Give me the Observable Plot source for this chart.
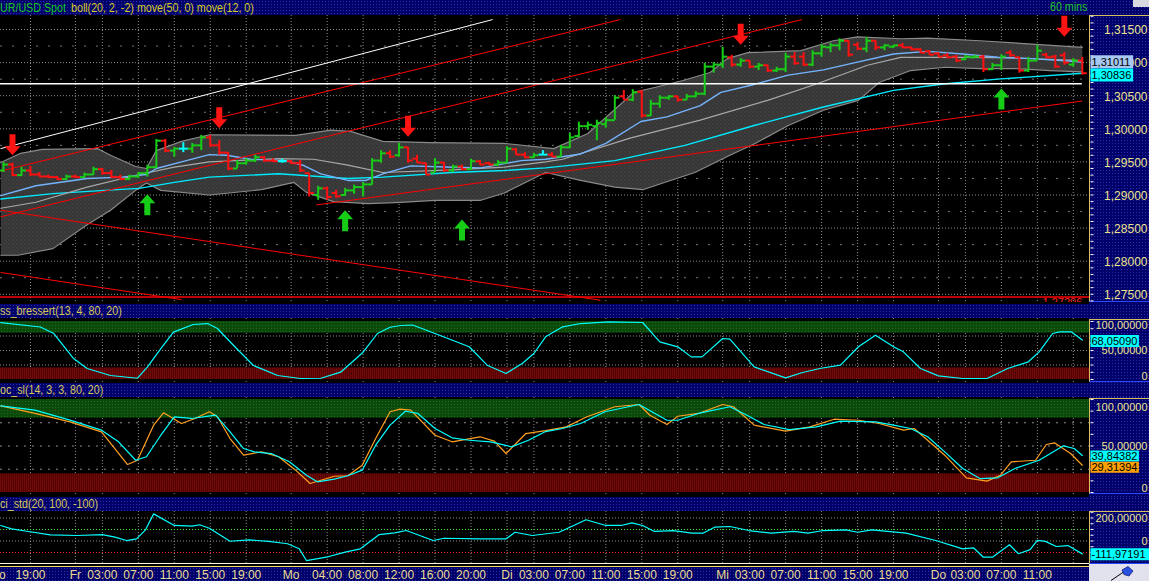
<!DOCTYPE html>
<html>
<head>
<meta charset="utf-8">
<script src="https://cdn.jsdelivr.net/npm/d3@7"></script>
<script src="https://cdn.jsdelivr.net/npm/@observablehq/plot@0.6"></script>
<style>
html,body{margin:0;padding:0;background:#000;}
#root{position:relative;width:1149px;height:581px;background:#000;overflow:hidden;font-family:'Liberation Sans',Arial,sans-serif;}
.navy{position:absolute;background-color:#00006a;background-image:radial-gradient(rgba(80,80,220,0.55) 0.7px, transparent 1px);background-size:3px 3px;}
.hdr{left:0;width:1149px;}
.hdr span{position:absolute;font-size:12px;white-space:nowrap;transform:scaleX(0.89);transform-origin:0 50%;}
.axbox{left:1089px;width:60px;box-sizing:border-box;border-left:1px solid #d8c060;border-top:1px solid #d8c060;border-bottom:1px solid #2848ff;}
.wrap{position:absolute;left:0;}
.wrap svg{display:block;}
</style>
</head>
<body>
<svg width="0" height="0" style="position:absolute;left:0;top:0">
  <defs>
    <pattern id="bandTex" width="4" height="4" patternUnits="userSpaceOnUse">
      <rect width="4" height="4" fill="#383838"/>
      <rect x="0" y="0" width="1" height="1" fill="#525252"/>
      <rect x="2" y="2" width="1" height="1" fill="#474747"/>
      <rect x="3" y="1" width="1" height="1" fill="#282828"/>
      <rect x="1" y="3" width="1" height="1" fill="#2e2e2e"/>
    </pattern>
    <pattern id="greenTex" width="3" height="3" patternUnits="userSpaceOnUse">
      <rect width="3" height="3" fill="#0b4a0b"/>
      <rect x="1" y="1" width="1" height="1" fill="#1e6a1e"/>
    </pattern>
    <pattern id="redTex" width="2" height="2" patternUnits="userSpaceOnUse">
      <rect width="2" height="2" fill="#560000"/>
      <rect x="0" y="0" width="1" height="2" fill="#6e0a0a"/>
    </pattern>
  </defs>
</svg>
<div id="root"></div>
<script>
// ================= DATA =================
// time axis (bar index -> label)
const timeTickIdx = [3,11,15,19,23,27,36,40,44,48,52,59,63,67,71,75,83,87,91,95,99,107,111,115];
const timeTickLabels = ["19:00","03:00","07:00","11:00","15:00","19:00","04:00","08:00","12:00","16:00","20:00","03:00","07:00","11:00","15:00","19:00","03:00","07:00","11:00","15:00","19:00","03:00","07:00","11:00"];
const dayIdx = [-0.6, 8, 32, 56, 80, 104];
const dayLabels = ["Do","Fr","Mo","Di","Mi","Do"];
const extraGridIdx = [119];

// price axis
const priceTicks = [1.275,1.280,1.285,1.290,1.295,1.300,1.305,1.310,1.315];
const priceTickLabels = ["1,27500","1,28000","1,28500","1,29000","1,29500","1,30000","1,30500","1,31000","1,31500"];
const priceMinorGrid = [1.2775,1.2825,1.2875,1.2925,1.2975,1.3025,1.3075,1.3125];

// hourly OHLC bars (index 0 = Do 16:00)
const barOpen = [1.2937,1.2946,1.2930,1.2937,1.2931,1.2928,1.2927,1.2924,1.2928,1.2927,
1.2931,1.2939,1.2933,1.2927,1.2924,1.2928,1.2933,1.2942,1.2982,1.2967,
1.2970,1.2970,1.2975,1.2987,1.2975,1.2964,1.2940,1.2948,1.2952,1.2957,
1.2952,1.2951,1.2951,1.2948,1.2933,1.2900,1.2910,1.2903,1.2900,1.2907,
1.2912,1.2916,1.2952,1.2963,1.2960,1.2972,1.2955,1.2948,1.2934,1.2949,
1.2937,1.2943,1.2939,1.2951,1.2948,1.2946,1.2949,1.2969,1.2961,1.2957,
1.2961,1.2961,1.2958,1.2972,1.2989,1.3004,1.3004,1.3007,1.3013,1.3049,
1.3044,1.3056,1.3020,1.3038,1.3047,1.3049,1.3044,1.3049,1.3053,1.3094,
1.3097,1.3108,1.3097,1.3103,1.3094,1.3096,1.3088,1.3090,1.3109,1.3109,
1.3097,1.3114,1.3123,1.3126,1.3133,1.3127,1.3121,1.3133,1.3123,1.3124,
1.3126,1.3123,1.3120,1.3117,1.3114,1.3111,1.3109,1.3105,1.3108,1.3109,
1.3090,1.3096,1.3115,1.3108,1.3088,1.3103,1.3112,1.3109,1.3111,1.3097,1.3103];
const barHigh = [1.2949,1.2948,1.2942,1.2943,1.2934,1.2930,1.2928,1.2930,1.2930,1.2933,
1.2942,1.2940,1.2937,1.2930,1.2930,1.2934,1.2945,1.2984,1.2984,1.2972,
1.2979,1.2978,1.2990,1.2990,1.2982,1.2964,1.2952,1.2955,1.2960,1.2958,
1.2955,1.2954,1.2952,1.2952,1.2933,1.2913,1.2912,1.2907,1.2910,1.2915,
1.2919,1.2955,1.2967,1.2967,1.2978,1.2972,1.2960,1.2948,1.2955,1.2949,
1.2945,1.2945,1.2954,1.2952,1.2949,1.2952,1.2973,1.2970,1.2964,1.2963,
1.2967,1.2964,1.2975,1.2993,1.3010,1.3010,1.3013,1.3017,1.3050,1.3058,
1.3059,1.3058,1.3043,1.3050,1.3050,1.3049,1.3052,1.3056,1.3099,1.3100,
1.3123,1.3111,1.3106,1.3103,1.3099,1.3096,1.3093,1.3114,1.3115,1.3115,
1.3118,1.3127,1.3129,1.3136,1.3133,1.3130,1.3138,1.3133,1.3127,1.3126,
1.3129,1.3123,1.3121,1.3118,1.3115,1.3114,1.3111,1.3111,1.3111,1.3111,
1.3099,1.3112,1.3118,1.3108,1.3108,1.3126,1.3114,1.3111,1.3115,1.3106,1.3108];
const barLow = [1.2934,1.2928,1.2928,1.2928,1.2927,1.2925,1.2922,1.2922,1.2925,1.2925,
1.2930,1.2930,1.2925,1.2922,1.2922,1.2925,1.2927,1.2940,1.2964,1.2957,
1.2964,1.2963,1.2967,1.2972,1.2960,1.2937,1.2940,1.2945,1.2949,1.2949,
1.2949,1.2948,1.2946,1.2934,1.2897,1.2892,1.2892,1.2895,1.2898,1.2901,
1.2897,1.2915,1.2948,1.2955,1.2957,1.2948,1.2948,1.2930,1.2934,1.2934,
1.2934,1.2937,1.2937,1.2945,1.2945,1.2943,1.2948,1.2960,1.2955,1.2955,
1.2960,1.2957,1.2957,1.2970,1.2987,1.2998,1.2982,1.3001,1.3013,1.3043,
1.3041,1.3016,1.3019,1.3031,1.3043,1.3040,1.3043,1.3047,1.3050,1.3084,
1.3091,1.3093,1.3093,1.3091,1.3088,1.3085,1.3085,1.3085,1.3096,1.3094,
1.3094,1.3108,1.3115,1.3118,1.3108,1.3118,1.3115,1.3118,1.3118,1.3121,
1.3121,1.3118,1.3114,1.3111,1.3108,1.3106,1.3100,1.3103,1.3106,1.3085,
1.3088,1.3088,1.3108,1.3084,1.3085,1.3103,1.3106,1.3091,1.3096,1.3093,1.3081];
const barClose = [1.2946,1.2930,1.2937,1.2931,1.2928,1.2927,1.2924,1.2928,1.2927,1.2931,
1.2939,1.2933,1.2927,1.2924,1.2928,1.2933,1.2942,1.2982,1.2967,1.2970,
1.2970,1.2975,1.2987,1.2975,1.2964,1.2940,1.2948,1.2952,1.2957,1.2952,
1.2951,1.2951,1.2948,1.2937,1.2903,1.2910,1.2897,1.2898,1.2907,1.2912,
1.2916,1.2952,1.2963,1.2958,1.2972,1.2952,1.2949,1.2931,1.2949,1.2937,
1.2943,1.2939,1.2951,1.2946,1.2946,1.2949,1.2970,1.2961,1.2957,1.2960,
1.2961,1.2958,1.2972,1.2987,1.3004,1.3006,1.3009,1.3013,1.3047,1.3044,
1.3055,1.3020,1.3038,1.3047,1.3049,1.3044,1.3049,1.3053,1.3094,1.3097,
1.3109,1.3097,1.3103,1.3094,1.3096,1.3088,1.3090,1.3109,1.3099,1.3097,
1.3114,1.3124,1.3126,1.3133,1.3112,1.3121,1.3133,1.3123,1.3126,1.3126,
1.3123,1.3120,1.3115,1.3112,1.3109,1.3108,1.3103,1.3109,1.3109,1.3090,
1.3096,1.3109,1.3111,1.3088,1.3103,1.3118,1.3108,1.3094,1.3100,1.3103,1.3084];

// bollinger(20,2,-2) and moving averages: [bar index, price]
const bollUpper = [[-0.3,1.2949],[1.9,1.2963],[4.3,1.2969],[10.5,1.2970],[11.9,1.2960],[14.7,1.2943],[15.9,1.2940],[17.0,1.2967],[19.8,1.2981],[22.9,1.2991],[32.5,1.2990],[36.4,1.2998],[38.6,1.2996],[42.2,1.2981],[47.5,1.2979],[55.7,1.2978],[61.2,1.2970],[65.0,1.2993],[67.9,1.3028],[70.1,1.3055],[72.3,1.3062],[75.6,1.3073],[78.6,1.3085],[80.5,1.3106],[82.8,1.3115],[88.7,1.3118],[92.3,1.3133],[95.0,1.3139],[99.8,1.3136],[102.8,1.3137],[108.6,1.3133],[114.4,1.3128],[120,1.3123]];
const bollLower = [[-0.3,1.2809],[1.6,1.2809],[5.5,1.2819],[9.3,1.2855],[11.9,1.2877],[14.7,1.2907],[15.9,1.2918],[17.5,1.2907],[22.9,1.2900],[28.7,1.2908],[32.3,1.2919],[33.7,1.2904],[36.7,1.2890],[40.6,1.2887],[44.2,1.2889],[48.0,1.2892],[53.1,1.2892],[55.7,1.2903],[60.3,1.2934],[64.2,1.2922],[68.0,1.2912],[71.1,1.2908],[73.1,1.2917],[76.9,1.2934],[80.8,1.2960],[83.5,1.2977],[87.3,1.3005],[91.2,1.3028],[95.1,1.3043],[97.4,1.3070],[100.9,1.3088],[104.8,1.3093],[108.6,1.3091],[112.5,1.3091],[116.4,1.3088],[120,1.3086]];
const bollMid = [[-0.3,1.2880],[3.6,1.2889],[9.3,1.2912],[15.1,1.2931],[19.0,1.2942],[22.9,1.2950],[30.6,1.2955],[34.5,1.2954],[38.3,1.2945],[42.2,1.2934],[49.9,1.2938],[55.7,1.2942],[60.3,1.2950],[62.2,1.2954],[69.7,1.2986],[77.5,1.3013],[85.0,1.3043],[90.5,1.3068],[96.1,1.3096],[99.8,1.3108],[106.7,1.3108],[112.5,1.3107],[120,1.3103]];
const ma12 = [[-0.3,1.2899],[3.6,1.2914],[9.3,1.2925],[13.2,1.2927],[15.9,1.2931],[17.0,1.2940],[19.8,1.2950],[22.9,1.2961],[24.8,1.2960],[27.5,1.2954],[31.4,1.2952],[33.3,1.2945],[35.3,1.2932],[38.3,1.2922],[40.3,1.2922],[42.2,1.2932],[45.3,1.2944],[49.9,1.2942],[53.1,1.2941],[57.6,1.2952],[60.3,1.2954],[64.2,1.2962],[67.0,1.2978],[70.9,1.3011],[73.8,1.3018],[77.5,1.3035],[79.8,1.3055],[83.5,1.3067],[87.3,1.3081],[91.2,1.3089],[95.1,1.3101],[99.0,1.3113],[102.8,1.3117],[106.7,1.3113],[110.6,1.3108],[114.4,1.3106],[120,1.3101]];
const ma50 = [[-0.3,1.2894],[5.5,1.2902],[11.2,1.2907],[15.1,1.2910],[19.0,1.2919],[22.9,1.2927],[30.6,1.2932],[38.3,1.2925],[42.2,1.2927],[49.9,1.2934],[55.7,1.2937],[60.3,1.2941],[68.0,1.2952],[75.8,1.2975],[83.5,1.3005],[91.2,1.3033],[99.0,1.3058],[104.8,1.3068],[110.6,1.3075],[120,1.3084]];

// drawn trend lines: [i1, p1, i2, p2]
const trendLines = [[-0.33,1.2970,54.4,1.3165],[-0.33,1.2936,68.6,1.3165],[-0.33,1.2867,88.8,1.3165],[34.8,1.2885,120,1.3042],[-0.33,1.2877,66.4,1.2741],[-0.33,1.2783,19.8,1.2742]];
const trendKind = ["white","red","red","red","red","red"];
const whiteLevel = [[-0.33,120,1.3068]];
const supportLevel = [[1.2746, 120, "1,27296"]];

// signal arrows: [bar index, tip price]
const sellArrows = [[1,1.2960],[24,1.3001],[45,1.2988],[82,1.3127],[118,1.3139]];
const buyArrows = [[16,1.2901],[38,1.2877],[51,1.2863],[111,1.3061]];

// last value flags
const priceFlagValues = [1.31011, 1.30836];
const priceFlagLabels = ["1,31011","1,30836"];

// dss_bressert(13,4,80,20)
const bressert = [[-0.3,98],[4.1,90.5],[5.6,79.3],[7.8,36.2],[9.3,19],[11.9,6.9],[14.9,2.2],[16.0,21.3],[17.5,53.4],[18.9,81.6],[21.1,94.8],[22.7,96.5],[23.8,87.9],[25.6,58.6],[27.8,24.1],[30.5,6.9],[33.0,1.7],[35.3,2.2],[37.5,12.6],[40.0,47],[41.6,79.3],[43.0,90.1],[44.2,93.1],[45.5,94],[48.0,79.3],[51.8,56.4],[53.8,24.7],[55.9,10.3],[57.7,27.6],[59.0,44.8],[60.3,73.6],[62.2,90.8],[64.2,96.5],[67.3,99.4],[71.1,98.3],[73.0,65],[75.0,56.3],[76.5,39],[77.7,39],[80.0,70.7],[80.8,69.5],[83.5,21.8],[87.0,2.9],[88.9,12],[90.8,19],[93.1,24.7],[95.1,56.4],[97.0,76.4],[99.0,56.4],[100.1,47.7],[102.0,19],[104.0,6.3],[106.7,1.7],[109.4,1.7],[111.7,19],[114.0,30.5],[115.2,47.7],[116.7,79.3],[117.5,82],[118.8,82],[120,68.0509]];
const bressertFlag = [68.0509]; const bressertFlagLabel = ["68,05090"];

// stoc_sl(14,3,3,80,20)
const stochK = [[-0.3,93.2],[3.5,88.5],[7.4,77.8],[10.9,67],[12.8,54.5],[14.7,34.7],[15.9,38.4],[17.5,61.6],[19.0,81.4],[20.9,79.6],[23.6,83.1],[25.2,65.2],[26.7,47.3],[27.9,43.7],[29.8,41.9],[31.8,33],[33.7,18.6],[34.9,11.5],[36.8,14.3],[38.3,18],[39.9,24],[41.4,50.9],[43.0,72.4],[44.7,87.4],[46.1,85],[48.0,68.8],[49.9,58.8],[51.8,56.2],[54.2,54.5],[56.5,49.1],[58.4,56.2],[60.3,65.5],[62.2,68.8],[64.2,74.2],[66.9,86.8],[70.7,94.6],[73.8,77.7],[75.0,77.7],[77.3,85],[80.8,92.2],[82.7,83.1],[84.6,73.1],[87.4,67.7],[90.4,70.6],[93.1,76.7],[97.0,76],[99.0,72.4],[100.9,68.8],[102.8,59.9],[104.7,43.7],[106.7,25.8],[108.6,15],[110.6,15.8],[112.5,25.8],[115.2,34.7],[117.9,50.2],[119.1,47.3],[120,39.84382]];
const stochD = [[-0.3,93.2],[3.5,85],[7.4,76],[10.9,65.2],[13.8,30.1],[14.9,34.7],[16.7,72.4],[17.8,85.7],[19.8,74.2],[21.3,79.6],[22.9,86.8],[23.8,81.4],[25.2,58],[26.7,40.1],[28.7,43.7],[30.6,38.4],[32.5,24],[34.1,9.7],[36.8,17.5],[38.3,18],[39.9,29.4],[41.4,58],[43.0,86.8],[44.1,89.6],[45.3,88.5],[48.0,61.6],[49.9,54.5],[53.0,59.9],[54.6,55.2],[55.9,41.9],[58.1,63.4],[60.3,66.5],[62.6,70.6],[64.9,81.4],[68.0,92.2],[70.7,94.6],[71.9,83.1],[73.8,73.1],[75.0,82],[77.3,85],[80.0,94.6],[81.2,92.2],[83.5,72.4],[87.0,65.9],[89.7,70.6],[92.4,78.8],[95.1,77.7],[97.4,74.2],[100.1,67],[101.3,68.8],[104.7,40.1],[107.1,15.8],[109.4,12.2],[110.9,18.6],[112.1,33],[114.8,34.7],[116.0,51.6],[116.9,53.4],[118.7,41.9],[120,29.31394]];
const stochFlags = [39.84382, 29.31394]; const stochFlagLabels = ["39,84382","29,31394"];

// cci_std(20,100,-100)
const cci = [[-0.3,135],[0.9,106],[2.6,85],[5.2,54],[8.2,48],[11.0,56],[12.4,33],[13.7,4],[14.8,19],[15.8,97],[16.7,236],[19.0,135],[21.0,129],[21.8,141],[22.9,111],[25.2,-2],[27.3,10],[29.5,-4],[31.6,-24],[32.9,-68],[33.7,-170],[35.9,-141],[38.0,-97],[39.7,-68],[41.8,56],[43.5,71],[44.8,91],[47.8,4],[49.0,24],[52.9,19],[55.9,19],[56.9,76],[58.8,48],[61.8,76],[64.8,185],[67.0,135],[68.7,135],[69.9,158],[71.1,135],[72.4,83],[74.5,91],[76.6,68],[77.8,68],[79.1,120],[80.8,126],[82.9,91],[85.4,68],[87.9,83],[89.5,68],[91.2,91],[93.7,97],[95.0,76],[96.6,97],[100.4,68],[103.7,4],[106.7,-68],[107.9,-59],[109.0,-141],[110.0,-141],[111.9,-33],[112.9,-111],[114.2,-75],[115.0,5],[115.9,-3],[117.1,-48],[118.4,-40],[120,-111.97191]];
const cciFlag = [-111.97191]; const cciFlagLabel = ["-111,97191"];

// indicator levels and axis labels
const obLevel = [80, 100], osLevel = [0, 20];
const oscGrid = [25, 50, 75];
const p2AxisVals = [100, 50, 0], p2AxisLabels = ["100,00000","50,00000","0"];
const p3AxisVals = [100, 50, 0], p3AxisLabels = ["100,00000","50,00000","0"];
const p4AxisVals = [200, 0], p4AxisLabels = ["200,00000","0"];
const cciLevels = [100, -100], cciGrayLevels = [200, 0];

// ================= RENDER =================
const FONT = "'Liberation Sans', Arial, sans-serif";
const root = document.getElementById("root");
const XD = [-3 / 8.99, 1086 / 8.99];
const gridIdx = [...timeTickIdx, ...dayIdx.filter(d => d >= 0), ...extraGridIdx];
const AXC = "#ece48c";
const GREEN = "#18cc18", RED = "#ff1010", CYAN = "#00ffff";

function div(cls, css, html) {
  const d = document.createElement("div");
  if (cls) d.className = cls;
  d.style.cssText = css;
  if (html) d.innerHTML = html;
  root.appendChild(d);
  return d;
}
// background chrome
div("navy", "left:1089px;top:0;width:60px;height:581px;");
div("navy axbox", "top:15px;height:287px;");
div("navy axbox", "top:319px;height:63px;");
div("navy axbox", "top:398px;height:96px;");
div("navy axbox", "top:511px;height:53px;");

const pxy = {x: d => d[0], y: d => d[1]};
const polySym = pts => ({draw(c) { pts.forEach(([x, y], k) => k ? c.lineTo(x, y) : c.moveTo(x, y)); c.closePath(); }});
const segSym = (x0, x1) => ({draw(c) { c.moveTo(x0, 0); c.lineTo(x1, 0); }});
const tickL = segSym(-4.5, 0), tickR = segSym(0, 4.5);
const arrowDown = polySym([[0,0],[-8,-9],[-3,-9],[-3,-21],[3,-21],[3,-9],[8,-9]]);
const arrowUp = polySym([[0,0],[-8,9],[-3,9],[-3,21],[3,21],[3,9],[8,9]]);
const axTick = segSym(1, 4);

function vgrid() { return Plot.ruleX(gridIdx, {x: d => d, stroke: "#8c8c8c", strokeDasharray: "1,2"}); }
function flags(vals, labels, bgs, dys, h) {
  return vals.flatMap((v, k) => {
    const w = labels[k].length * 5.8 + 3;
    return [
      Plot.dot([v], {y: d => d, frameAnchor: "right", dy: dys[k], symbol: polySym([[1,-h/2],[w,-h/2],[w,h/2],[1,h/2]]), fill: bgs[k], stroke: "none"}),
      Plot.text([v], {y: d => d, frameAnchor: "right", dx: 2, dy: dys[k] + 0.5, text: () => labels[k], textAnchor: "start", fill: "#000", fontSize: 11})
    ];
  });
}
function axisLabels(vals, labels, dys, size) {
  return vals.map((v, k) => Plot.text([v], {y: d => d, frameAnchor: "right", dx: 58, dy: dys[k], text: () => labels[k], textAnchor: "end", fill: AXC, fontSize: size}));
}
function axisTicks(vals) {
  return Plot.dot(vals, {y: d => d, frameAnchor: "right", symbol: axTick, stroke: "#ffffff", fill: "none", strokeWidth: 1});
}
function mk(height, yDomain, marks) {
  return Plot.plot({
    width: 1149, height, marginTop: 0, marginRight: 60, marginBottom: 0, marginLeft: 0,
    x: {domain: XD, axis: null}, y: {domain: yDomain, axis: null},
    color: {type: "identity"},
    style: {background: "transparent", fontFamily: FONT, fontSize: "11px", color: "#fff"},
    marks
  });
}
function place(el, top) {
  const d = document.createElement("div");
  d.className = "wrap";
  d.style.top = top + "px";
  d.appendChild(el);
  root.appendChild(d);
}

// ---------- price panel ----------
const bars = barOpen.map((o, i) => ({i, o, h: barHigh[i], l: barLow[i], c: barClose[i]}));
const barColor = d => d.c > d.o ? GREEN : d.c < d.o ? RED : CYAN;
const bandPoly = [...bollUpper, ...bollLower.slice().reverse()];
const trendData = trendLines.map((t, k) => ({i1: t[0], p1: t[1], i2: t[2], p2: t[3], col: trendKind[k] === "white" ? "#ffffff" : "#ff0000"}));
const minorPriceTicks = d3.range(1274, 1318).map(v => v / 1000);

const priceChart = mk(287, [1.273761, 1.317115], [
  Plot.ruleY(priceMinorGrid, {y: d => d, stroke: "#777", strokeDasharray: "2,10"}),
  Plot.ruleY(priceTicks, {y: d => d, stroke: "#8c8c8c", strokeDasharray: "1,2"}),
  vgrid(),
  Plot.line(bandPoly, {...pxy, fill: "url(#bandTex)", stroke: "none"}),
  Plot.line(bollUpper, {...pxy, stroke: "#8a8a8a", strokeWidth: 1.2}),
  Plot.line(bollLower, {...pxy, stroke: "#8a8a8a", strokeWidth: 1.2}),
  Plot.line(ma50, {...pxy, stroke: "#00eaff", strokeWidth: 1.4}),
  Plot.line(bollMid, {...pxy, stroke: "#a8a8a8", strokeWidth: 1.2}),
  Plot.line(ma12, {...pxy, stroke: "#74b4ff", strokeWidth: 1.4}),
  Plot.link(trendData, {x1: "i1", y1: "p1", x2: "i2", y2: "p2", stroke: "col", strokeWidth: 1}),
  Plot.ruleY(whiteLevel, {y: d => d[2], x1: d => d[0], x2: d => d[1], stroke: "#ffffff", strokeWidth: 1.6}),
  Plot.ruleY(supportLevel, {y: d => d[0], stroke: "#ff0000", strokeWidth: 1.4}),
  Plot.text(supportLevel, {x: d => d[1], y: d => d[0], text: d => d[2], textAnchor: "end", dy: 6, fill: "#ff2020", fontSize: 11}),
  Plot.ruleX(bars, {x: "i", y1: "l", y2: "h", stroke: barColor, strokeWidth: 2}),
  Plot.dot(bars, {x: "i", y: "o", symbol: tickL, fill: "none", stroke: barColor, strokeWidth: 2}),
  Plot.dot(bars, {x: "i", y: "c", symbol: tickR, fill: "none", stroke: barColor, strokeWidth: 2}),
  Plot.dot(sellArrows, {...pxy, symbol: arrowDown, fill: "#ff1414", stroke: "none"}),
  Plot.dot(buyArrows, {...pxy, symbol: arrowUp, fill: "#16cc16", stroke: "none"}),
  axisTicks(minorPriceTicks),
  ...axisLabels(priceTicks, priceTickLabels, priceTicks.map(() => 1), 12),
  ...flags(priceFlagValues, priceFlagLabels, ["#a6c8f2", CYAN], [0, 1.5], 13)
]);
place(priceChart, 15);

// ---------- indicator panels ----------
const bandRects = [
  {lo: obLevel[0], hi: obLevel[1], fill: "url(#greenTex)"},
  {lo: osLevel[0], hi: osLevel[1], fill: "url(#redTex)"}
];
function oscBands() { return Plot.rect(bandRects, {x1: XD[0], x2: XD[1], y1: "lo", y2: "hi", fill: "fill"}); }
function hgrid(vals, stroke, dash) { return Plot.ruleY(vals, {y: d => d, stroke, strokeDasharray: dash}); }

const p2 = mk(64, [-5.17, 105.17], [
  vgrid(),
  hgrid(oscGrid, "#8c8c8c", "1,2"),
  oscBands(),
  Plot.line(bressert, {...pxy, stroke: CYAN, strokeWidth: 1.2}),
  axisTicks(d3.range(0, 101, 12.5)),
  ...axisLabels(p2AxisVals, p2AxisLabels, [4, 0, -3], 11),
  ...flags(bressertFlag, bressertFlagLabel, [CYAN], [1], 12)
]);
place(p2, 318);

const p3 = mk(97, [-2.15, 102.15], [
  vgrid(),
  hgrid(oscGrid, "#8c8c8c", "2,6"),
  oscBands(),
  Plot.line(stochD, {...pxy, stroke: "#ffa020", strokeWidth: 1.2}),
  Plot.line(stochK, {...pxy, stroke: CYAN, strokeWidth: 1.2}),
  axisTicks(d3.range(0, 101, 12.5)),
  ...axisLabels(p3AxisVals, p3AxisLabels, [8, 0, -4], 11),
  ...flags(stochFlags, stochFlagLabels, [CYAN, "#ffa000"], [0.5, 2], 11)
]);
place(p3, 397);

const p4 = mk(52, [-195.7, 256.5], [
  vgrid(),
  hgrid(cciGrayLevels, "#8c8c8c", "1,2"),
  Plot.ruleY([cciLevels[0]], {y: d => d, stroke: "#44ee44", strokeDasharray: "1,2"}),
  Plot.ruleY([cciLevels[1]], {y: d => d, stroke: "#ff2020", strokeDasharray: "1,2"}),
  Plot.line(cci, {...pxy, stroke: CYAN, strokeWidth: 1.2}),
  axisTicks(d3.range(-150, 251, 50)),
  ...axisLabels(p4AxisVals, p4AxisLabels, [0.5, 0], 11),
  ...flags(cciFlag, cciFlagLabel, [CYAN], [0.5], 12)
]);
place(p4, 511);

// ---------- headers ----------
div("navy hdr", "top:0;height:15px;",
  `<span style="left:0;top:1px;line-height:15px;color:#14c814">UR/USD Spot</span>` +
  `<span style="left:71px;top:1px;line-height:15px;color:#d8cc22">boll(20, 2, -2) move(50, 0) move(12, 0)</span>` +
  `<span style="left:1050px;top:0;line-height:15px;color:#22c422">60 mins</span>`);
div("", "position:absolute;left:1133px;top:0;width:16px;height:7px;background:#d8d8e0;");
div("navy hdr", "top:304px;height:14px;", `<span style="left:0;top:0;line-height:14px;color:#d8c858">ss_bressert(13, 4, 80, 20)</span>`);
div("navy hdr", "top:383px;height:14px;", `<span style="left:0;top:0;line-height:14px;color:#d8c858">oc_sl(14, 3, 3, 80, 20)</span>`);
div("navy hdr", "top:497px;height:14px;", `<span style="left:0;top:0;line-height:14px;color:#d8c858">ci_std(20, 100, -100)</span>`);

// ---------- time axis ----------
div("", "position:absolute;left:0;top:563px;width:1089px;height:1px;background:#fffbd8;");
div("", "position:absolute;left:0;top:566px;width:1089px;height:1px;background:#f0dc60;");
div("navy", "left:0;top:567px;width:1089px;height:14px;");
const timeChart = Plot.plot({
  width: 1149, height: 14, marginTop: 0, marginRight: 60, marginBottom: 0, marginLeft: 0,
  x: {domain: XD, axis: null},
  style: {background: "transparent", fontFamily: FONT, fontSize: "12px"},
  marks: [
    Plot.text(timeTickIdx, {x: d => d, text: (d, k) => timeTickLabels[k], fill: "#eadc8e", fontSize: 12, dy: 1}),
    Plot.text(dayIdx, {x: d => d, text: (d, k) => dayLabels[k], fill: "#eadc8e", fontSize: 12, dy: 1})
  ]
});
place(timeChart, 567);
div("", "position:absolute;left:1089px;top:564px;width:60px;height:17px;background:#e2e2ee;",
  `<svg width="60" height="17" style="position:absolute;left:0;top:0"><line x1="22" y1="16.5" x2="36" y2="7" stroke="#000" stroke-width="1"/><path d="M33,6 L39,2.5 L44,7 L40,12 L35,10.5 Z" fill="#2a52e0" stroke="#10207a" stroke-width="0.8"/></svg>`);
</script>
</body>
</html>
